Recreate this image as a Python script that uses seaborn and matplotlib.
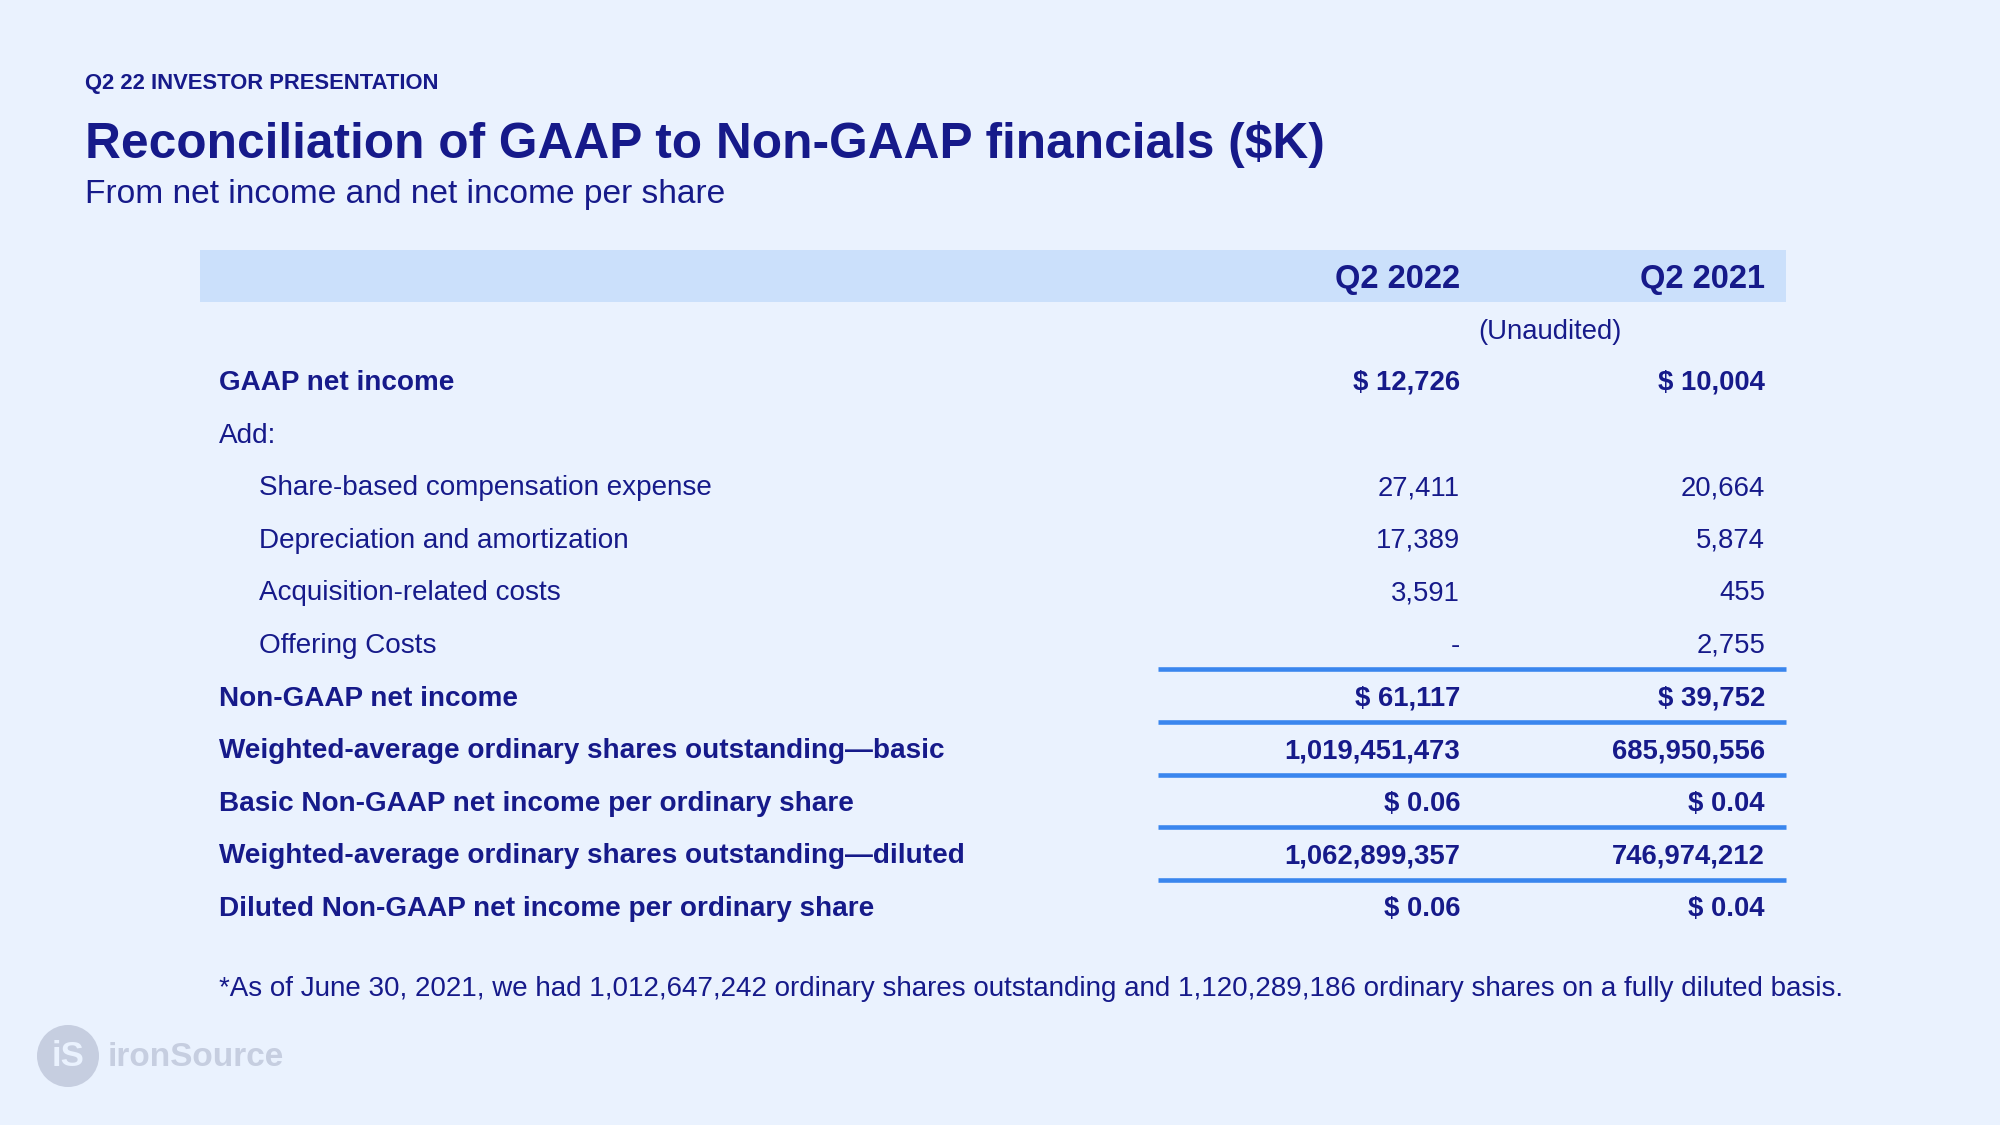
import matplotlib
matplotlib.use("Agg")
import matplotlib.pyplot as plt
from matplotlib.patches import Circle, Rectangle
import seaborn as sns

# ---------------- data ----------------
supertitle = "Q2 22 INVESTOR PRESENTATION"
title = "Reconciliation of GAAP to Non-GAAP financials ($K)"
subtitle = "From net income and net income per share"
columns = ["Q2 2022", "Q2 2021"]
unaudited = "(Unaudited)"
row_labels = [
    "GAAP net income",
    "Add:",
    "Share-based compensation expense",
    "Depreciation and amortization",
    "Acquisition-related costs",
    "Offering Costs",
    "Non-GAAP net income",
    "Weighted-average ordinary shares outstanding\u2014basic",
    "Basic Non-GAAP net income per ordinary share",
    "Weighted-average ordinary shares outstanding\u2014diluted",
    "Diluted Non-GAAP net income per ordinary share",
]
values_q2_2022 = ["$ 12,726", "", "27,411", "17,389", "3,591", "-",
                  "$ 61,117", "1,019,451,473", "$ 0.06", "1,062,899,357", "$ 0.06"]
values_q2_2021 = ["$ 10,004", "", "20,664", "5,874", "455", "2,755",
                  "$ 39,752", "685,950,556", "$ 0.04", "746,974,212", "$ 0.04"]
row_bold = [True, False, False, False, False, False, True, True, True, True, True]
row_indent = [False, False, True, True, True, True, False, False, False, False, False]
rule_after = [5, 6, 7, 8, 9]
footnote = ("*As of June 30, 2021, we had 1,012,647,242 ordinary shares outstanding "
            "and 1,120,289,186 ordinary shares on a fully diluted basis.")
logo_text = "ironSource"

# ---------------- style ----------------
BG = "#eaf2fe"
BAND = "#cbe0fb"
NAVY = "#161a8a"
RULE = "#3a86ee"
LOGO = "#c6cee0"

sns.set_theme(style="white")
plt.rcParams["font.family"] = ["Liberation Sans", "DejaVu Sans"]

fig = plt.figure(figsize=(20, 11.25), dpi=100, facecolor=BG)
ax = fig.add_axes([0, 0, 1, 1])
ax.set_facecolor(BG)
ax.set_xlim(0, 2000)
ax.set_ylim(1125, 0)
ax.axis("off")

# headings
ax.text(85, 89.5, supertitle, fontsize=15.8, fontweight="bold", color=NAVY, va="baseline")
ax.text(85, 158, title, fontsize=35.7, fontweight="bold", color=NAVY, va="baseline")
ax.text(85, 203, subtitle, fontsize=24.1, color=NAVY, va="baseline")

# header band
ax.add_patch(Rectangle((200, 250), 1586, 52, facecolor=BAND, edgecolor="none"))
col_x = [1460, 1765]
for cx, c in zip(col_x, columns):
    ax.text(cx, 288, c, fontsize=23.5, fontweight="bold", color=NAVY, ha="right", va="baseline")
ax.text(1550, 339, unaudited, fontsize=19.8, color=NAVY, ha="center", va="baseline")

# rows
y0, step = 380, 52.6
for i, (lab, v1, v2, b, ind) in enumerate(zip(row_labels, values_q2_2022, values_q2_2021,
                                               row_bold, row_indent)):
    yb = y0 + i * step + 10
    w = "bold" if b else "normal"
    ax.text(259 if ind else 219, yb, lab, fontsize=20.1, fontweight=w, color=NAVY, va="baseline")
    ax.text(col_x[0], yb, v1, fontsize=19.8, fontweight=w, color=NAVY, ha="right", va="baseline")
    ax.text(col_x[1], yb, v2, fontsize=19.8, fontweight=w, color=NAVY, ha="right", va="baseline")

for i in rule_after:
    yl = y0 + (i + 0.5) * step
    ax.plot([1158, 1786], [yl, yl], color=RULE, lw=3.3, solid_capstyle="butt")

# footnote
ax.text(219, 996, footnote, fontsize=20, color=NAVY, va="baseline")

# logo
ax.add_patch(Circle((68, 1056), 31, facecolor=LOGO, edgecolor="none"))
ax.text(68, 1057, "iS", fontsize=25, fontweight="heavy", color=BG, ha="center", va="center")
ax.text(108, 1057, logo_text, fontsize=24, fontweight="heavy", color=LOGO, ha="left", va="center")

fig.savefig("out.png", dpi=100, facecolor=BG)
